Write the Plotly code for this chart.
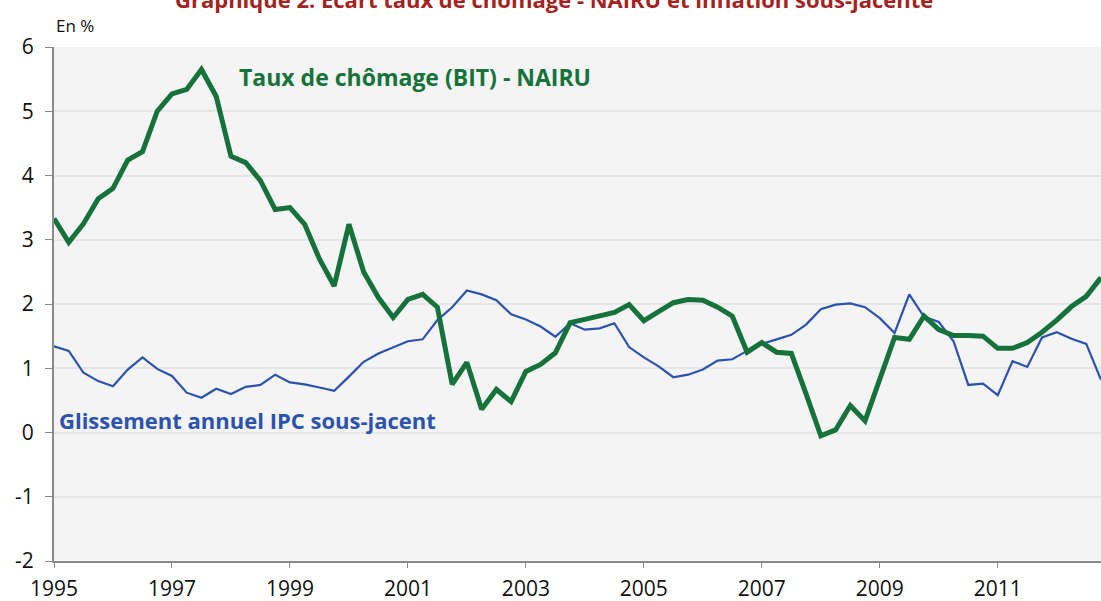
import plotly.graph_objects as go

# Quarterly observations, 1995Q1 .. 2012Q4
start_year = 1995
n_quarters = 72
quarters = [start_year + q / 4 for q in range(n_quarters)]

chomage_nairu = [
    3.33, 2.96, 3.25, 3.64, 3.80, 4.24, 4.37, 5.00, 5.27, 5.34, 5.65, 5.23,
    4.30, 4.20, 3.92, 3.47, 3.50, 3.24, 2.70, 2.28, 3.24, 2.50, 2.10, 1.79,
    2.07, 2.15, 1.95, 0.75, 1.09, 0.36, 0.67, 0.48, 0.95, 1.06, 1.24, 1.71,
    1.76, 1.82, 1.87, 1.99, 1.74, 1.88, 2.02, 2.07, 2.06, 1.95, 1.81, 1.25,
    1.40, 1.25, 1.23, 0.60, -0.05, 0.04, 0.42, 0.18, 0.82, 1.48, 1.45, 1.81,
    1.60, 1.51, 1.51, 1.50, 1.31, 1.31, 1.40, 1.56, 1.75, 1.96, 2.12, 2.41,
]

ipc_sous_jacent = [
    1.34, 1.27, 0.93, 0.80, 0.72, 0.98, 1.17, 0.99, 0.88, 0.62, 0.54, 0.68,
    0.60, 0.71, 0.74, 0.90, 0.78, 0.75, 0.70, 0.65, 0.87, 1.10, 1.23, 1.33,
    1.42, 1.45, 1.75, 1.95, 2.21, 2.15, 2.06, 1.84, 1.76, 1.65, 1.49, 1.70,
    1.60, 1.62, 1.70, 1.33, 1.17, 1.03, 0.86, 0.90, 0.98, 1.12, 1.14, 1.27,
    1.38, 1.45, 1.52, 1.68, 1.92, 1.99, 2.01, 1.95, 1.78, 1.55, 2.15, 1.80,
    1.72, 1.42, 0.74, 0.76, 0.58, 1.11, 1.02, 1.48, 1.56, 1.46, 1.38, 0.82,
]

x_ticks = [1995, 1997, 1999, 2001, 2003, 2005, 2007, 2009, 2011]
y_ticks = [-2, -1, 0, 1, 2, 3, 4, 5, 6]
y_tick_labels = ["-2", "-1", "0", "1", "2", "3", "4", "5", "6"]

title_text = "Graphique 2. Écart taux de chômage - NAIRU et inflation sous-jacente"
label_green = "Taux de chômage (BIT) - NAIRU"
label_blue = "Glissement annuel IPC sous-jacent"

GREEN = "#15723a"
BLUE = "#2b53ae"
RED = "#a3231f"
FONT = "Open Sans"

fig = go.Figure()
fig.add_trace(go.Scatter(x=quarters, y=ipc_sous_jacent, mode="lines",
                         line=dict(color=BLUE, width=2.2), showlegend=False))
fig.add_trace(go.Scatter(x=quarters, y=chomage_nairu, mode="lines",
                         line=dict(color=GREEN, width=5), showlegend=False))

fig.update_layout(
    width=1101, height=601,
    margin=dict(l=54, r=0, t=47, b=40),
    paper_bgcolor="white",
    plot_bgcolor="#f4f4f4",
    font=dict(family=FONT, color="#111111"),
    xaxis=dict(range=[1995, 2012.75], tickvals=x_ticks, ticktext=[str(v) for v in x_ticks],
               showgrid=False, zeroline=False, showline=True, linecolor="#8a8a8a", linewidth=2,
               ticks="outside", ticklen=5, tickcolor="#8a8a8a", tickwidth=1,
               tickfont=dict(size=21, family=FONT, color="#111111"), ticklabelstandoff=3),
    yaxis=dict(range=[-2, 6], tickvals=y_ticks, ticktext=y_tick_labels,
               showgrid=True, gridcolor="#e6e6e6", gridwidth=2,
               zeroline=False, showline=True, linecolor="#8a8a8a", linewidth=2,
               ticks="outside", ticklen=7, tickcolor="#8a8a8a", tickwidth=1,
               tickfont=dict(size=21, family=FONT, color="#111111"), ticklabelstandoff=7),
)

fig.add_annotation(text="<b>" + title_text + "</b>", xref="paper", yref="paper",
                   x=0.478, y=1.094, xanchor="center", yanchor="middle", showarrow=False,
                   font=dict(size=22, color=RED, family=FONT))
fig.add_annotation(text="En %", xref="paper", yref="paper", x=0.0, y=1.041,
                   xanchor="left", yanchor="middle", showarrow=False,
                   font=dict(size=17, color="#111111", family=FONT))
fig.add_annotation(text="<b>" + label_green + "</b>", xref="x", yref="y",
                   x=1998.1, y=5.53, xanchor="left", yanchor="middle", showarrow=False,
                   font=dict(size=23, color=GREEN, family=FONT))
fig.add_annotation(text="<b>" + label_blue + "</b>", xref="x", yref="y",
                   x=1995.05, y=0.2, xanchor="left", yanchor="middle", showarrow=False,
                   font=dict(size=22, color=BLUE, family=FONT))

fig.write_html(
    "out.html",
    config={"displayModeBar": False},
    post_script="document.body.style.margin='0';document.body.style.overflow='hidden';"
                "document.documentElement.style.overflow='hidden';",
)
